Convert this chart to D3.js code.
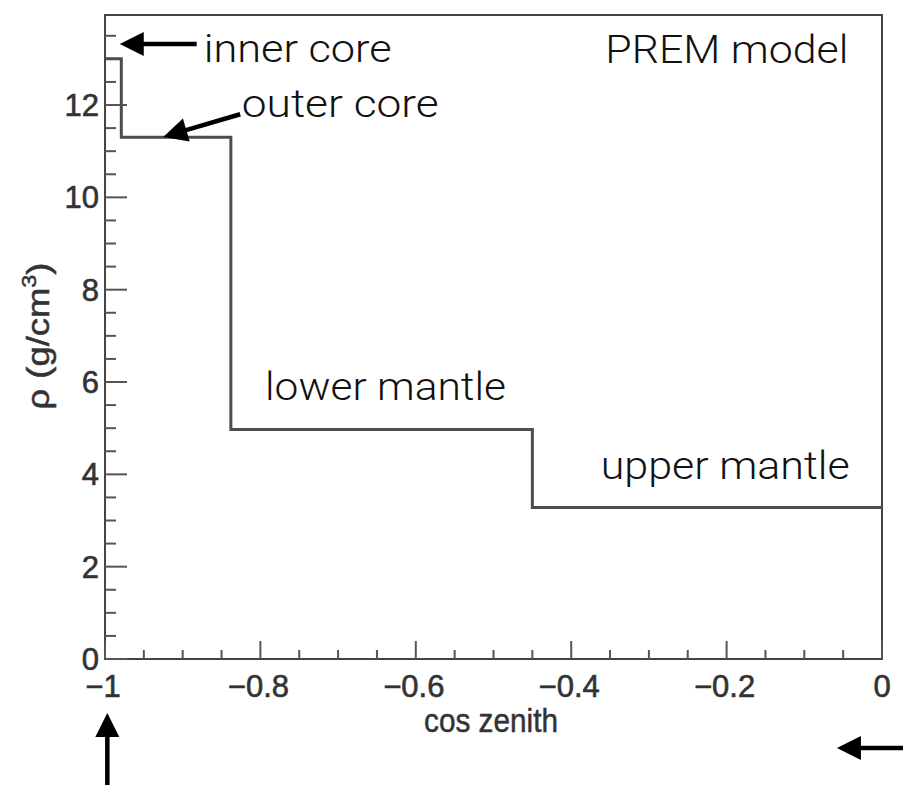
<!DOCTYPE html>
<html>
<head>
<meta charset="utf-8">
<script src="https://cdn.jsdelivr.net/npm/d3@7"></script>
<style>
  html, body { margin: 0; padding: 0; background: #fff; }
  svg { display: block; }
</style>
</head>
<body>
<svg id="chart" width="903" height="785"></svg>
<script>
// ---- data ----
const layerNames = ["inner core", "outer core", "lower mantle", "upper mantle"];
const layerStart = [-1, -0.979, -0.838, -0.45];   // cos zenith where each layer begins
const layerEnd = 0;                                 // end of last layer
const density = [13.0, 11.3, 4.97, 3.28];           // g/cm^3
const xTicks = [-1, -0.8, -0.6, -0.4, -0.2, 0];
const yTicks = [0, 2, 4, 6, 8, 10, 12];

// annotation text (data coords)
const labelText = ["inner core", "outer core", "lower mantle", "upper mantle", "PREM model"];
const labelX = [-0.873, -0.824, -0.794, -0.362, -0.356];
const labelY = [12.94, 11.75, 5.61, 3.89, 12.92];
const labelLen = [188, 197, 241, 249, 243];

// arrows: tail -> tip (data coords)
const arrowTail = [[-0.882, 13.32], [-0.826, 11.80], [-0.997, -2.9], [0.03, -1.93]];
const arrowTip = [[-0.981, 13.32], [-0.925, 11.31], [-0.997, -1.17], [-0.058, -1.93]];

// ---- layout ----
const svg = d3.select("#chart");
const x = d3.scaleLinear().domain([-1, 0]).range([105, 882]);
const y = d3.scaleLinear().domain([0, 13.95]).range([659, 15]);

const fmt = v => (v < 0 ? "\u2212" : "") + String(Math.abs(v));

// frame
svg.append("rect")
  .attr("x", x(-1)).attr("y", y(13.95))
  .attr("width", x(0) - x(-1)).attr("height", y(0) - y(13.95))
  .attr("fill", "none").attr("stroke", "#444").attr("stroke-width", 2);

// minor & major ticks
const yMinor = d3.range(0, 13.95, 0.5);
const xMinor = d3.range(-1, 0.0001, 0.05);
svg.append("g").selectAll("line").data(yMinor).join("line")
  .attr("x1", x(-1)).attr("x2", d => x(-1) + (Math.abs(d % 2) < 1e-6 ? 22 : 11))
  .attr("y1", d => y(d)).attr("y2", d => y(d))
  .attr("stroke", "#555").attr("stroke-width", 2);
svg.append("g").selectAll("line").data(xMinor).join("line")
  .attr("x1", d => x(d)).attr("x2", d => x(d))
  .attr("y1", y(0)).attr("y2", d => y(0) - (Math.abs(Math.round(d * 100) % 20) === 0 ? 18 : 9))
  .attr("stroke", "#555").attr("stroke-width", 2);

// tick labels
const tickFont = "'Liberation Sans', Arial, Helvetica, sans-serif";
svg.append("g").selectAll("text").data(yTicks).join("text")
  .attr("x", x(-1) - 6).attr("y", d => y(d) + 11)
  .attr("text-anchor", "end")
  .attr("font-family", tickFont).attr("font-size", 31).attr("fill", "#333")
  .attr("stroke", "#333").attr("stroke-width", 0.6)
  .text(d => fmt(d));
svg.append("g").selectAll("text").data(xTicks).join("text")
  .attr("x", d => x(d) - (d < 0 ? 2 : 0)).attr("y", 697)
  .attr("text-anchor", "middle")
  .attr("font-family", tickFont).attr("font-size", 31).attr("fill", "#333")
  .attr("stroke", "#333").attr("stroke-width", 0.6)
  .text(d => fmt(d));

// axis titles
svg.append("text")
  .attr("x", 491).attr("y", 732)
  .attr("text-anchor", "middle")
  .attr("font-family", tickFont).attr("font-size", 34).attr("fill", "#333")
  .attr("stroke", "#333").attr("stroke-width", 0.5)
  .attr("textLength", 134).attr("lengthAdjust", "spacingAndGlyphs")
  .text("cos zenith");
const yt = svg.append("text")
  .attr("transform", "translate(49,336) rotate(-90)")
  .attr("text-anchor", "middle")
  .attr("font-family", tickFont).attr("font-size", 31).attr("fill", "#333")
  .attr("stroke", "#333").attr("stroke-width", 0.5)
  .attr("textLength", 147).attr("lengthAdjust", "spacingAndGlyphs");
yt.append("tspan").text("\u03c1 (g/cm");
yt.append("tspan").attr("font-size", 20).attr("dy", -13).text("3");
yt.append("tspan").attr("dy", 13).text(")");

// step line
const pts = layerStart.map((s, i) => [s, density[i]]);
pts.push([layerEnd, density[density.length - 1]]);
svg.append("path")
  .attr("d", d3.line().x(d => x(d[0])).y(d => y(d[1])).curve(d3.curveStepAfter)(pts))
  .attr("fill", "none").attr("stroke", "#4d4d4d").attr("stroke-width", 3);

// annotation text
const annFont = "'Roboto', 'Liberation Sans', Helvetica, sans-serif";
svg.append("g").selectAll("text").data(labelText).join("text")
  .attr("x", (d, i) => x(labelX[i])).attr("y", (d, i) => y(labelY[i]))
  .attr("font-family", annFont).attr("font-weight", 300).attr("font-size", 38).attr("fill", "#111")
  .attr("textLength", (d, i) => labelLen[i]).attr("lengthAdjust", "spacingAndGlyphs")
  .text(d => d);

// arrows
arrowTail.forEach((t, i) => {
  const x1 = x(t[0]), y1 = y(t[1]), x2 = x(arrowTip[i][0]), y2 = y(arrowTip[i][1]);
  const ang = Math.atan2(y2 - y1, x2 - x1);
  const hl = 24, hw = 12;
  const bx = x2 - hl * Math.cos(ang), by = y2 - hl * Math.sin(ang);
  svg.append("line")
    .attr("x1", x1).attr("y1", y1).attr("x2", bx + 2 * Math.cos(ang)).attr("y2", by + 2 * Math.sin(ang))
    .attr("stroke", "#000").attr("stroke-width", 4.5);
  const px = -Math.sin(ang), py = Math.cos(ang);
  svg.append("path")
    .attr("d", `M${x2},${y2}L${bx + hw * px},${by + hw * py}L${bx - hw * px},${by - hw * py}Z`)
    .attr("fill", "#000");
});
</script>
</body>
</html>
